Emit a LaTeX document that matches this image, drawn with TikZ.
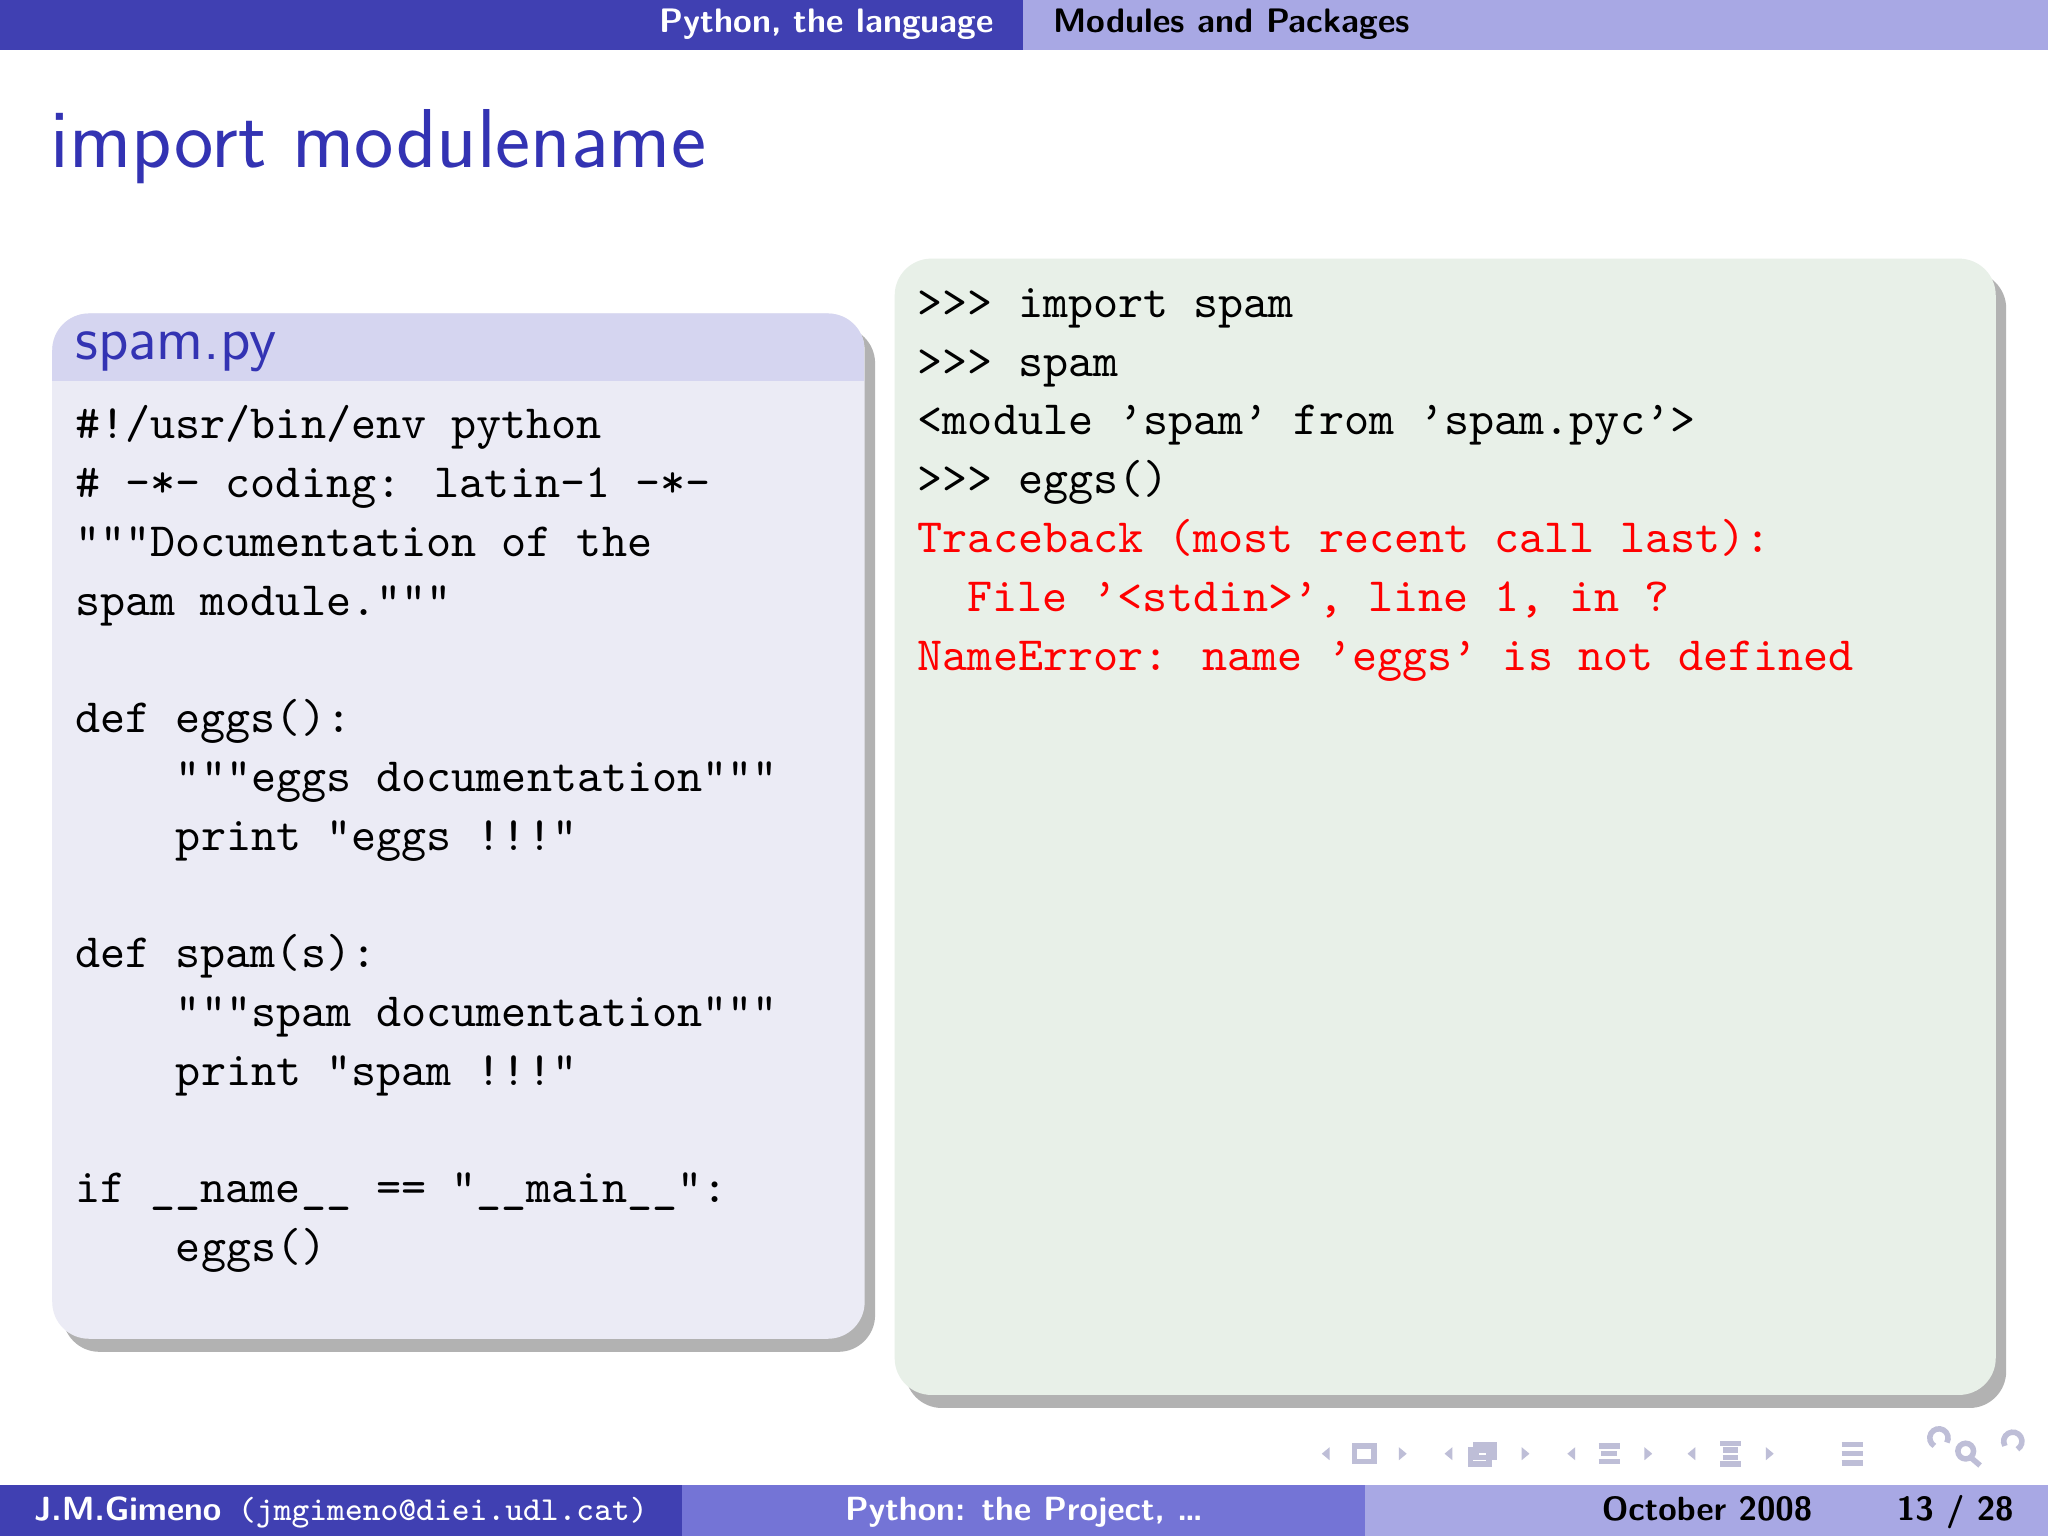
\documentclass[tikz,border=0pt]{standalone}
\usepackage{fontspec}
\definecolor{bdark}{RGB}{64,64,178}
\definecolor{bmid}{RGB}{116,116,214}
\definecolor{blight}{RGB}{168,168,228}
\definecolor{titleblue}{RGB}{51,51,179}
\definecolor{hdr}{RGB}{213,213,240}
\definecolor{bodyb}{RGB}{235,235,245}
\definecolor{greenb}{RGB}{232,240,232}
\definecolor{navg}{RGB}{190,190,215}
\begin{document}
\begin{tikzpicture}[x=0.01cm,y=-0.01cm,
  code/.style={anchor=base west,inner sep=0pt,font=\ttfamily\fontsize{10.4}{12.8}\selectfont},
  err/.style={code,text=red},
  bar/.style={anchor=base,inner sep=0pt,font=\sffamily\bfseries\fontsize{7.4}{9}\selectfont},
  fbar/.style={anchor=base,inner sep=0pt,font=\sffamily\bfseries\fontsize{7.3}{9}\selectfont},
  shad/.style={fill=black!30,rounded corners=8},
  nav/.style={fill=navg,draw=none}]
\useasboundingbox (0,0) rectangle (1568,1176);
\fill[white] (0,0) rectangle (1568,1176);
% top bar
\fill[bdark] (0,0) rectangle (783,38);
\fill[blight] (783,0) rectangle (1568,38);
\node[bar,text=white] (t1) at (633,25) {Python, the language};
\node[bar,text=black] (t2) at (943,25) {Modules and Packages};
% title
\node[anchor=base west,inner sep=0pt,text=titleblue,font=\sffamily\fontsize{18.2}{21}\selectfont] (title) at (38,128) {import modulename};
% left block
\fill[shad] (48,250) rectangle (670,1035);
\fill[bodyb,rounded corners=8] (40,240) rectangle (662,1025);
\begin{scope}
\clip[rounded corners=8] (40,240) rectangle (662,1025);
\fill[hdr] (40,240) rectangle (662,292);
\end{scope}
\node[anchor=base west,inner sep=0pt,text=titleblue,font=\sffamily\fontsize{13.2}{15}\selectfont] (hd) at (57,275) {spam.py};
\node[code] (l1) at (57,336) {\#!/usr/bin/env python};
\node[code] (l2) at (57,381) {\# -*- coding: latin-1 -*-};
\node[code] (l3) at (57,426) {"""Documentation of the};
\node[code] (l4) at (57,471) {spam module."""};
\node[code] (l5) at (57,561) {def eggs():};
\node[code] (l6) at (134,606) {"""eggs documentation"""};
\node[code] (l7) at (134,651) {print "eggs !!!"};
\node[code] (l8) at (57,741) {def spam(s):};
\node[code] (l9) at (134,786) {"""spam documentation"""};
\node[code] (l10) at (134,831) {print "spam !!!"};
\node[code] (l11) at (57,921) {if \_\_name\_\_ == "\_\_main\_\_":};
\node[code] (l12) at (134,966) {eggs()};
% right block
\fill[shad] (693,208) rectangle (1536,1078);
\fill[greenb,rounded corners=8] (685,198) rectangle (1528,1068);
\node[code] (r1) at (702,243) {>>> import spam};
\node[code] (r2) at (702,288) {>>> spam};
\node[code] (r3) at (702,333) {<module ’spam’ from ’spam.pyc’>};
\node[code] (r4) at (702,378) {>>> eggs()};
\node[err] (r5) at (702,423) {Traceback (most recent call last):};
\node[err] (r6) at (740,468) {File ’<stdin>’, line 1, in ?};
\node[err] (r7) at (702,513) {NameError: name ’eggs’ is not defined};
% nav symbols
\fill[nav] (1018,1108)--(1012,1113)--(1018,1118)--cycle;
\draw[navg,line width=1.2pt] (1037,1107) rectangle (1052,1119);
\fill[nav] (1071,1108)--(1077,1113)--(1071,1118)--cycle;
\fill[nav] (1112,1108)--(1106,1113)--(1112,1118)--cycle;
\draw[navg,line width=1.2pt] (1126,1110) rectangle (1140,1121) (1130,1106) rectangle (1144,1116);
\fill[nav] (1165,1108)--(1171,1113)--(1165,1118)--cycle;
\fill[nav] (1206,1108)--(1200,1113)--(1206,1118)--cycle;
\draw[navg,line width=1.2pt] (1224,1107)--(1240,1107) (1226,1113)--(1238,1113) (1224,1119)--(1240,1119);
\fill[nav] (1259,1108)--(1265,1113)--(1259,1118)--cycle;
\fill[nav] (1298,1108)--(1292,1113)--(1298,1118)--cycle;
\draw[navg,line width=1.2pt] (1317,1105)--(1333,1105) (1319,1110)--(1331,1110) (1319,1116)--(1331,1116) (1317,1121)--(1333,1121);
\fill[nav] (1352,1108)--(1358,1113)--(1352,1118)--cycle;
\draw[navg,line width=1.2pt] (1410,1106)--(1426,1106) (1410,1113)--(1426,1113) (1410,1120)--(1426,1120);
\draw[navg,line width=1.2pt] (1481,1107) arc (120:390:7);
\draw[navg,line width=1.2pt] (1505,1111) circle (6) (1509,1116)--(1516,1122);
\draw[navg,line width=1.2pt] (1535,1107) arc (150:420:7);
% footer
\fill[bdark] (0,1137) rectangle (522,1176);
\fill[bmid] (522,1137) rectangle (1045,1176);
\fill[blight] (1045,1137) rectangle (1568,1176);
\node[fbar,text=white] (f1) at (261,1164) {J.M.Gimeno\enspace{\mdseries\ttfamily(jmgimeno@diei.udl.cat)}};
\node[fbar,text=white] (f2) at (784,1164) {Python: the Project, \ldots};
\node[fbar,text=black] (f3) at (1307,1164) {October 2008};
\node[fbar,text=black] (f4) at (1497,1164) {13 / 28};
\end{tikzpicture}
\end{document}
